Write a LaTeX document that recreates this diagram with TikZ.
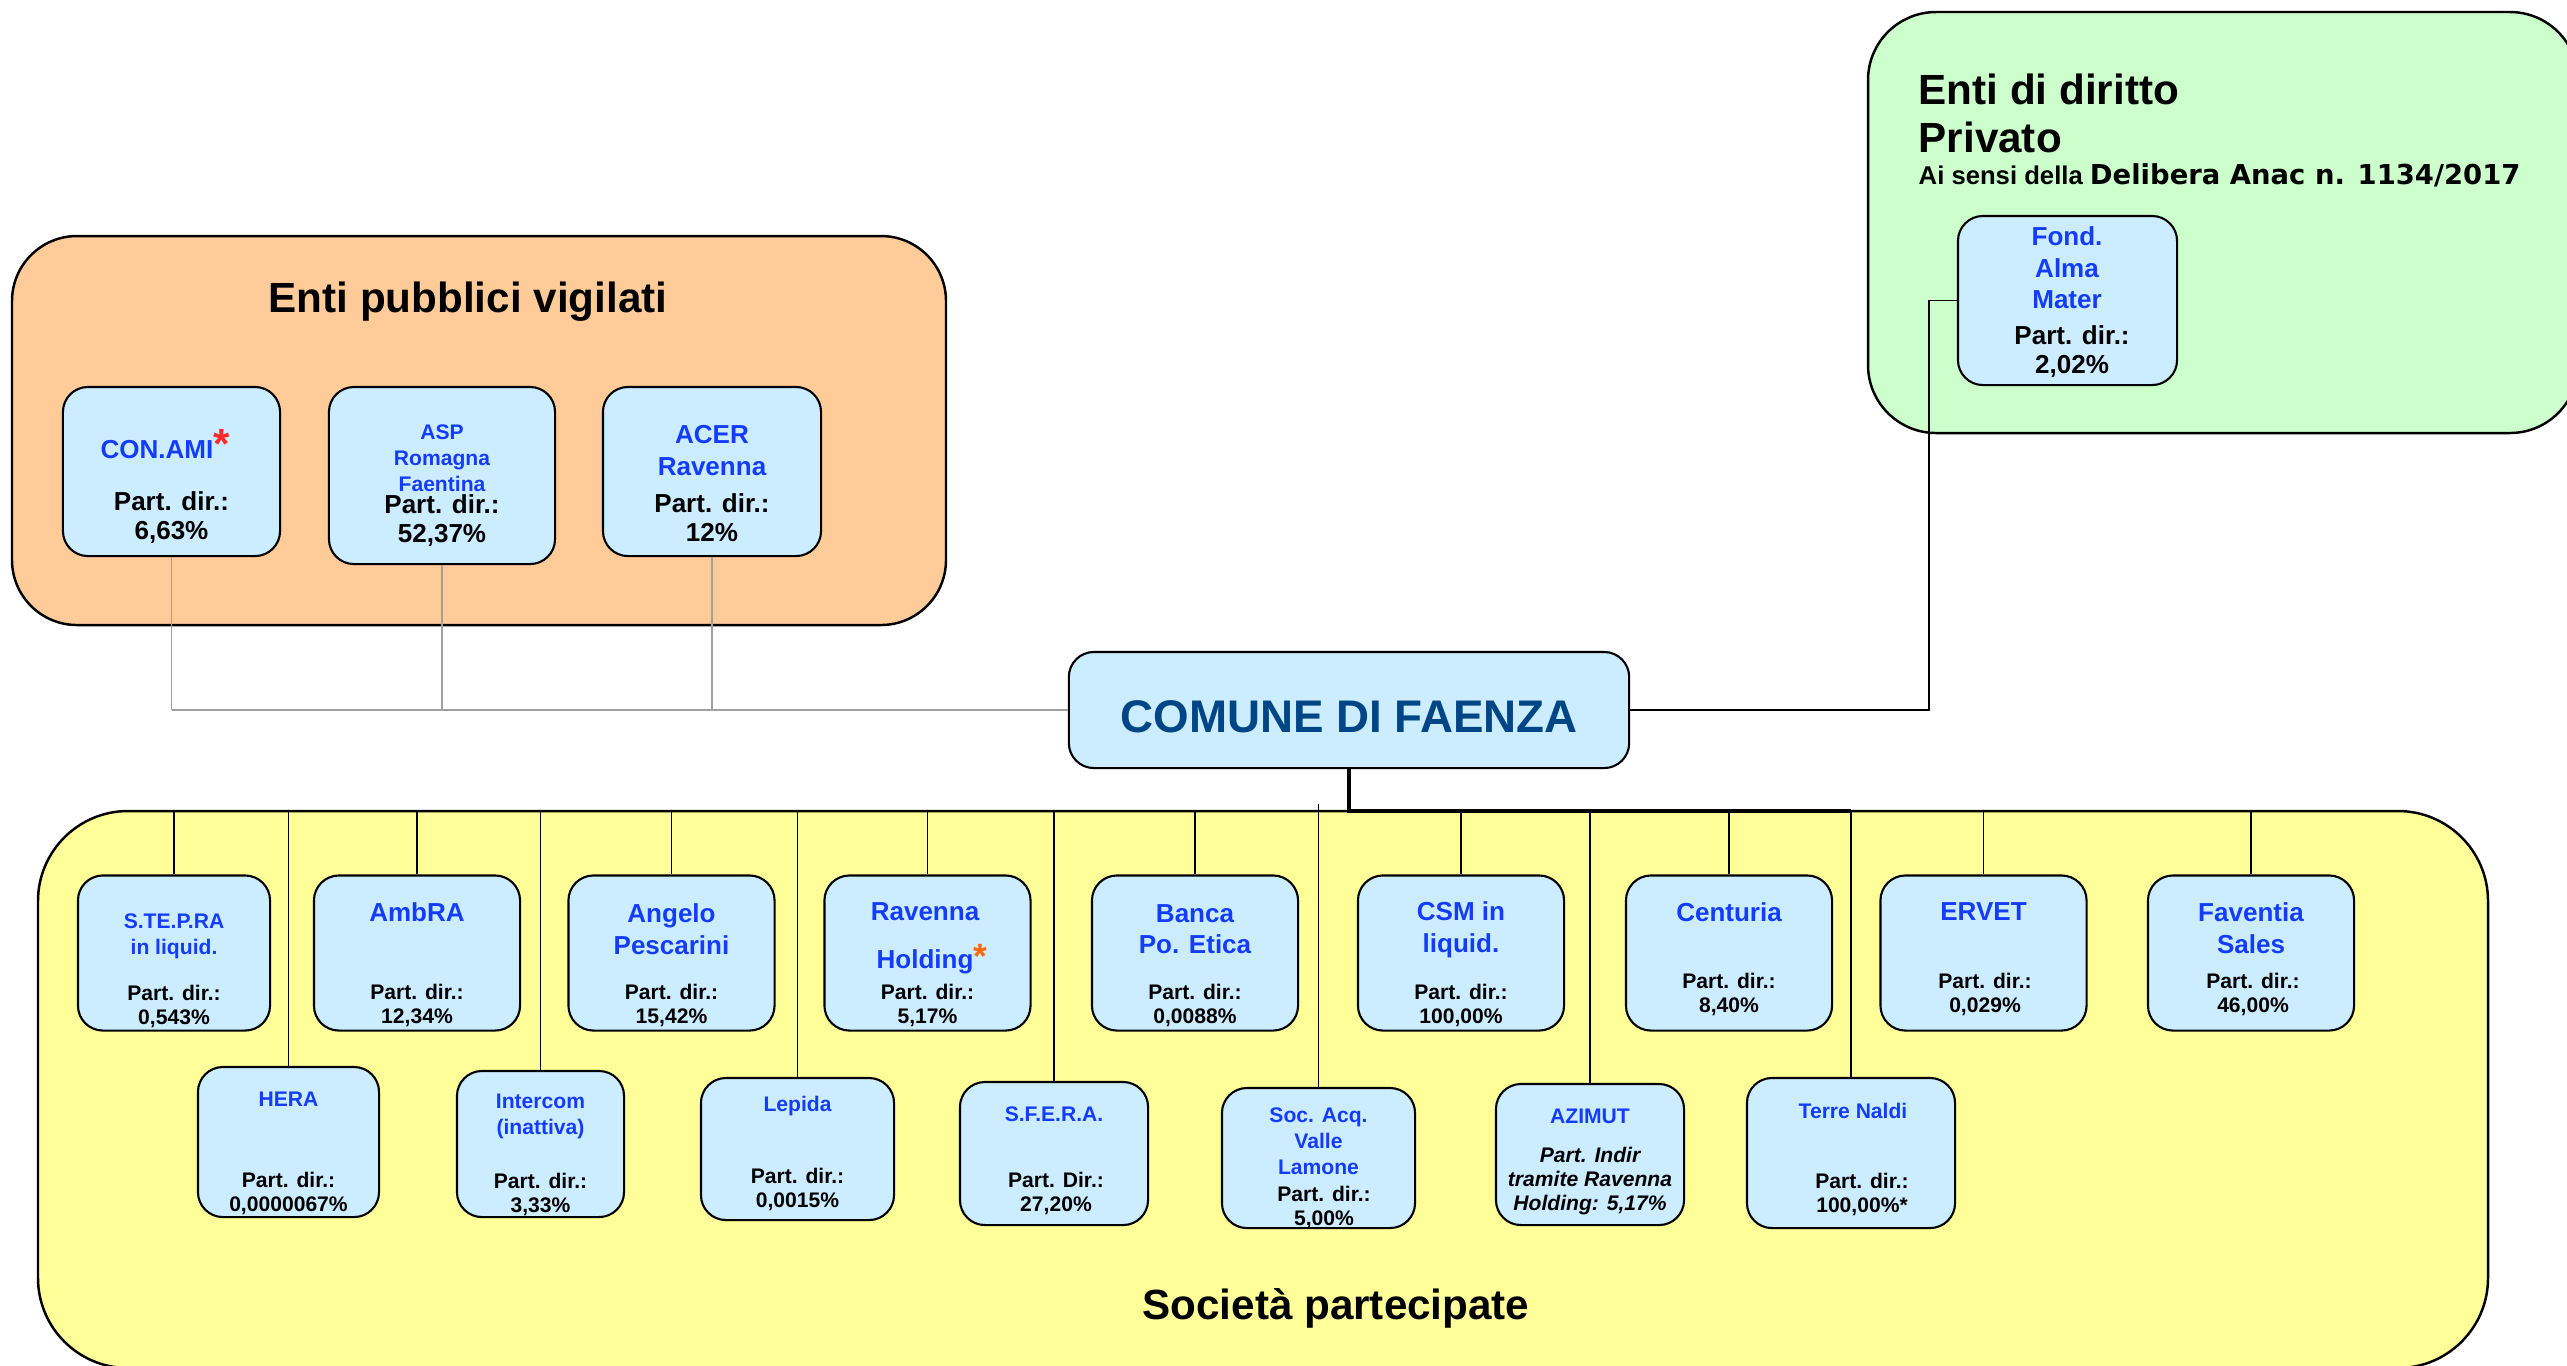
\documentclass[tikz,border=0pt]{standalone}
\usepackage{fontspec}
\setmainfont{Liberation Sans}
\newfontfamily\verdanafont{DejaVu Sans}

\definecolor{bluebox}{RGB}{204,236,255}
\definecolor{bluenome}{RGB}{20,60,255}
\definecolor{bluecomune}{RGB}{0,69,134}
\definecolor{arancio}{RGB}{255,204,153}
\definecolor{verde}{RGB}{204,255,204}
\definecolor{giallo}{RGB}{255,255,153}
\definecolor{grigiolinea}{RGB}{160,160,160}
\definecolor{rosso}{RGB}{255,40,40}
\definecolor{asterarancio}{RGB}{255,102,0}

\newcommand\ftitolo{\fontsize{12}{13.7}\selectfont\bfseries}
\newcommand\fnome{\fontsize{7.4}{9}\selectfont\bfseries}
\newcommand\fnomep{\fontsize{6}{7.4}\selectfont\bfseries}
\newcommand\fpartg{\fontsize{7.4}{8.3}\selectfont\bfseries}
\newcommand\fpart{\fontsize{6}{6.8}\selectfont\bfseries}
\newcommand\asterisco[2]{\rlap{\smash{\textcolor{#1}{\fontsize{#2}{#2}\selectfont *}}}}

\begin{document}
\begin{tikzpicture}[x=0.01cm,y=-0.01cm,
  contenitore/.style={draw,line width=0.7pt},
  ente/.style={draw,fill=bluebox,line width=0.6pt,rounded corners=0.25cm,inner sep=0pt},
  riga1/.style={ente,minimum width=2.06cm,minimum height=1.55cm},
  nome/.style={text=bluenome,font=\fnome,align=center,inner sep=0pt},
  nomep/.style={nome,font=\fnomep},
  partg/.style={font=\fpartg,align=center,inner sep=0pt},
  part/.style={font=\fpart,align=center,inner sep=0pt},
  titolo/.style={font=\ftitolo,inner sep=0pt},
  linea/.style={line width=0.45pt},
  grigio/.style={draw=grigiolinea,line width=0.45pt},
  spesso/.style={line width=1pt}]
\useasboundingbox (0,0) rectangle (2567,1365);
\fill[white] (0,0) rectangle (2567,1365);

% contenitori
\draw[contenitore,fill=arancio,rounded corners=0.65cm] (12,236) rectangle (946,625);
\draw[contenitore,fill=verde,rounded corners=0.68cm] (1868,12) rectangle (2578,433);
\draw[contenitore,fill=giallo,rounded corners=0.9cm] (38,811) rectangle (2488,1368);

\node[titolo] (t-vigilati) at (468,302) {Enti pubblici vigilati};
\node[titolo,anchor=west,align=left] (t-privato) at (1918,113) {Enti di diritto\\Privato};
\node[anchor=west,inner sep=0pt] (t-delibera) at (1918,175) {\fontsize{7.3}{8}\selectfont\bfseries Ai sensi della {\verdanafont\fontsize{7.8}{8}\selectfont Delibera Anac n. 1134/2017}};
\node[titolo] (t-societa) at (1336,1308) {Società partecipate};

% comune
\node[ente,minimum width=5.6cm,minimum height=1.16cm,text=bluecomune,text height=0.45cm,font=\fontsize{13}{13}\selectfont\bfseries] (comune) at (1349,710) {COMUNE DI FAENZA};

% enti pubblici vigilati
\node[ente,minimum width=2.17cm,minimum height=1.69cm] (conami) at (171.5,471.5) {};
\node[ente,minimum width=2.26cm,minimum height=1.77cm] (asp) at (442,475.5) {};
\node[ente,minimum width=2.18cm,minimum height=1.69cm] (acer) at (712,471.5) {};
\node[nome] (conami-n) at (157,450) {CON.AMI\asterisco{rosso}{12}};
\node[partg] (conami-p) at (171.5,517.5) {Part. dir.:\\6,63\%};
\node[nomep] (asp-n) at (442,458) {ASP\\Romagna\\Faentina};
\node[partg] (asp-p) at (442,520.5) {Part. dir.:\\52,37\%};
\node[nome] (acer-n) at (712,450.5) {ACER\\Ravenna};
\node[partg] (acer-p) at (712,517.5) {Part. dir.:\\12\%};

% enti di diritto privato
\node[ente,minimum width=2.19cm,minimum height=1.69cm] (fond) at (2067.5,300.5) {};
\node[nome] (fond-n) at (2067,268) {Fond.\\Alma\\Mater};
\node[partg] (fond-p) at (2072,351.5) {Part. dir.:\\2,02\%};

% societa partecipate, prima riga
\node[riga1,minimum width=1.92cm] (stepra) at (174,953) {};
\node[riga1] (ambra) at (417,953) {};
\node[riga1] (pescarini) at (671.5,953) {};
\node[riga1] (ravholding) at (927.5,953) {};
\node[riga1] (banca) at (1195,953) {};
\node[riga1] (csm) at (1461,953) {};
\node[riga1] (centuria) at (1729,953) {};
\node[riga1] (ervet) at (1983.5,953) {};
\node[riga1] (faventia) at (2251,953) {};
\node[nomep] (stepra-n) at (174,936) {S.TE.P.RA\\in liquid.};
\node[part] (stepra-p) at (174,1006.5) {Part. dir.:\\0,543\%};
\node[nome] (ambra-n) at (417,912) {AmbRA};
\node[part] (ambra-p) at (417,1005) {Part. dir.:\\12,34\%};
\node[nome] (pescarini-n) at (671.5,929) {Angelo\\Pescarini};
\node[part] (pescarini-p) at (671.5,1005) {Part. dir.:\\15,42\%};
\node[nome] (ravholding-n) at (925,938) {Ravenna\\[0.16cm]Holding\asterisco{asterarancio}{10}};
\node[part] (ravholding-p) at (927.5,1005) {Part. dir.:\\5,17\%};
\node[nome] (banca-n) at (1195,929) {Banca\\Po. Etica};
\node[part] (banca-p) at (1195,1005) {Part. dir.:\\0,0088\%};
\node[nome] (csm-n) at (1461,930) {CSM in\\liquid.};
\node[part] (csm-p) at (1461,1005) {Part. dir.:\\100,00\%};
\node[nome] (centuria-n) at (1729,912) {Centuria};
\node[part] (centuria-p) at (1729,994) {Part. dir.:\\8,40\%};
\node[nome] (ervet-n) at (1983.5,912) {ERVET};
\node[part] (ervet-p) at (1985,994) {Part. dir.:\\0,029\%};
\node[nome] (faventia-n) at (2251,928) {Faventia\\Sales};
\node[part] (faventia-p) at (2253,994) {Part. dir.:\\46,00\%};

% seconda riga
\node[ente,minimum width=1.81cm,minimum height=1.50cm] (hera) at (288.5,1142) {};
\node[ente,minimum width=1.67cm,minimum height=1.46cm] (intercom) at (540.5,1144) {};
\node[ente,minimum width=1.93cm,minimum height=1.42cm] (lepida) at (797.5,1149) {};
\node[ente,minimum width=1.88cm,minimum height=1.43cm] (sfera) at (1054,1153.5) {};
\node[ente,minimum width=1.93cm,minimum height=1.40cm] (socacq) at (1318.5,1158) {};
\node[ente,minimum width=1.88cm,minimum height=1.41cm] (azimut) at (1590,1154.5) {};
\node[ente,minimum width=2.08cm,minimum height=1.50cm] (terrenaldi) at (1851,1153) {};
\node[nomep] (hera-n) at (288.5,1099) {HERA};
\node[part] (hera-p) at (288.5,1193) {Part. dir.:\\0,0000067\%};
\node[nomep] (intercom-n) at (540.5,1116) {Intercom\\(inattiva)};
\node[part] (intercom-p) at (540.5,1194) {Part. dir.:\\3,33\%};
\node[nomep] (lepida-n) at (797.5,1106) {Lepida};
\node[part] (lepida-p) at (797.5,1189) {Part. dir.:\\0,0015\%};
\node[nomep] (sfera-n) at (1054,1114) {S.F.E.R.A.};
\node[part] (sfera-p) at (1056,1193.5) {Part. Dir.:\\27,20\%};
\node[nomep] (socacq-n) at (1318.5,1141.5) {Soc. Acq.\\Valle\\Lamone};
\node[part] (socacq-p) at (1324,1207.5) {Part. dir.:\\5,00\%};
\node[nomep] (azimut-n) at (1590,1116) {AZIMUT};
\node[part,font=\fpart\itshape] (azimut-p) at (1590,1181) {Part. Indir\\tramite Ravenna\\Holding: 5,17\%};
\node[nomep] (terrenaldi-n) at (1853,1111) {Terre Naldi};
\node[part] (terrenaldi-p) at (1862,1194) {Part. dir.:\\100,00\%*};

% collegamenti
\coordinate (bus) at (1349,811);
\coordinate (busacq) at (1318.5,804);
\coordinate (fondgomito) at (1929,710);
\foreach \e in {conami,asp,acer}
  \draw[grigio] (\e.south) -- (\e.south |- comune.west);
\draw[grigio] (conami.south |- comune.west) -- (comune.west);
\draw[linea] (comune.east) -- (fondgomito) |- (fond.west);
\draw[spesso] (comune.south) -- (bus) -- (terrenaldi.north |- bus);
\foreach \s in {stepra,hera,ambra,intercom,pescarini,lepida,ravholding,sfera,banca,csm,azimut,centuria,terrenaldi,ervet,faventia}
  \draw[linea] (\s.north |- bus) -- (\s.north);
\draw[linea] (busacq) -- (socacq.north);
\end{tikzpicture}
\end{document}
